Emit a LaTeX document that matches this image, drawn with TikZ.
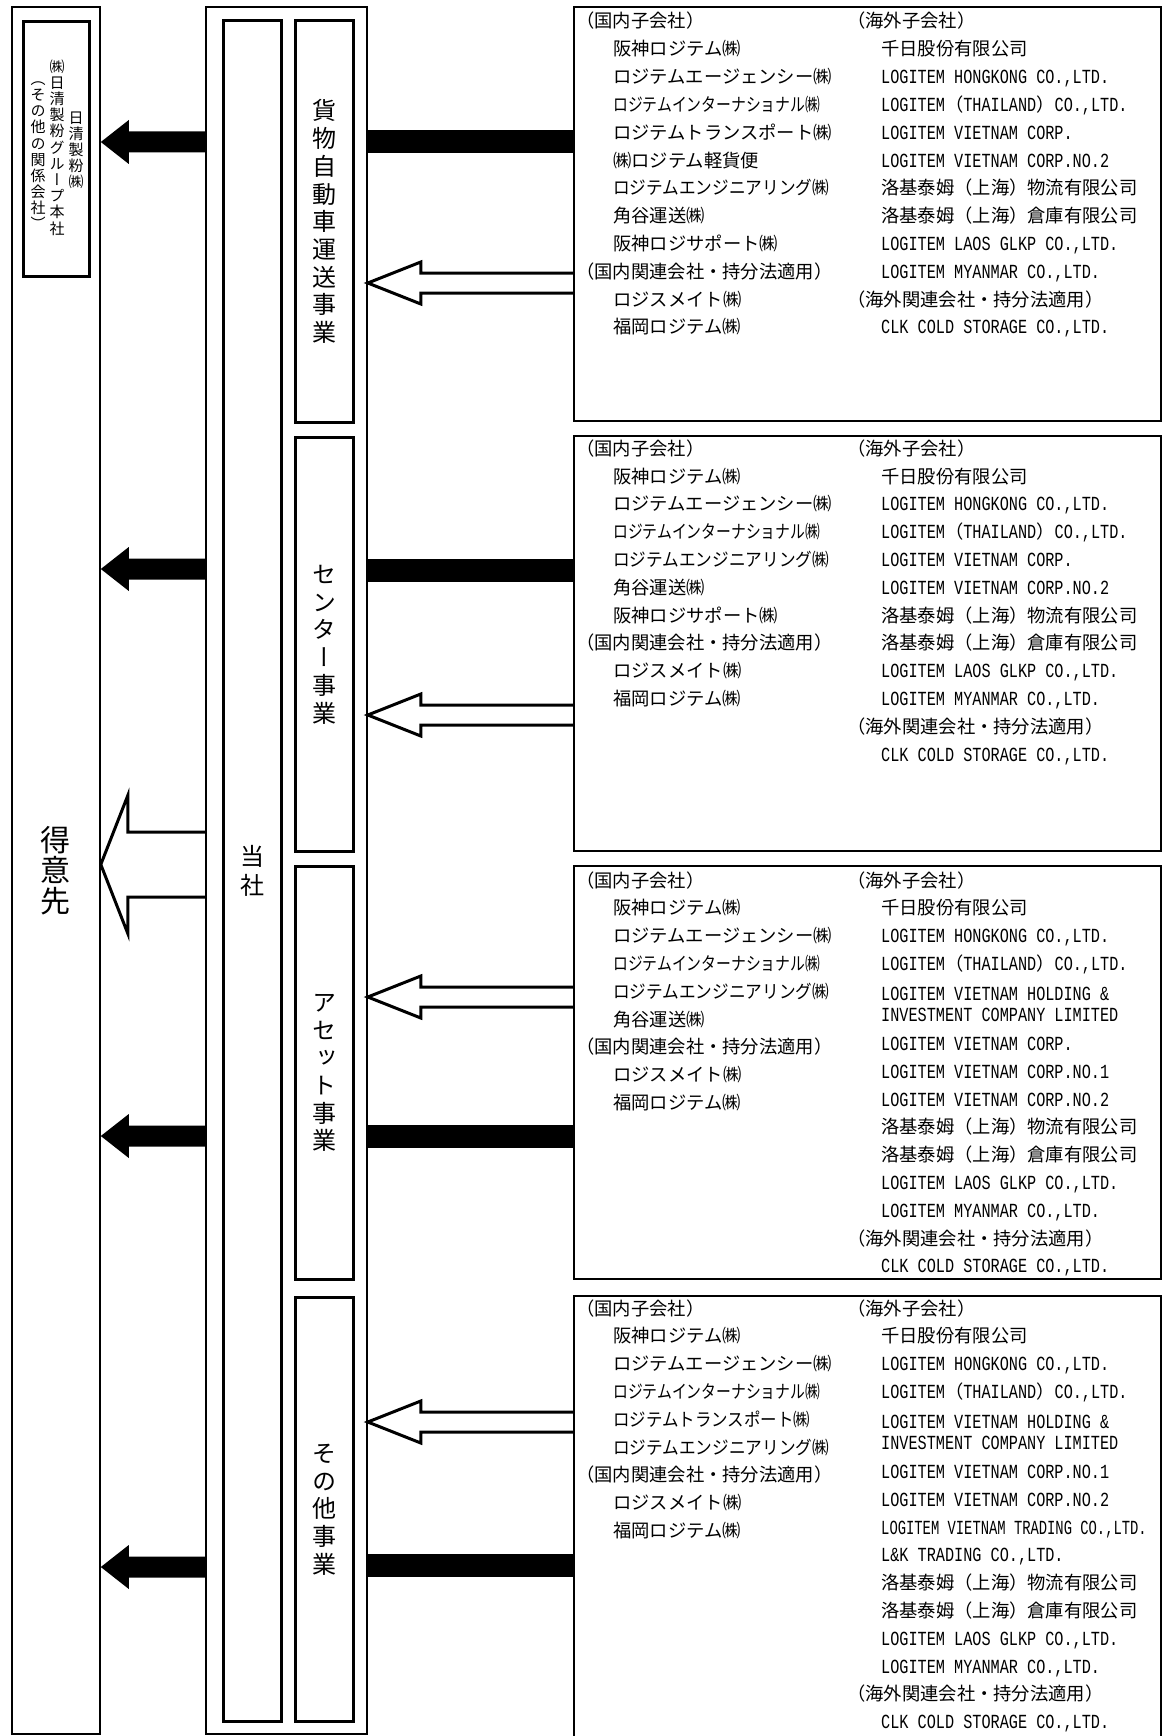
\documentclass[tikz,border=0pt]{standalone}
\usepackage{fontspec}
\usepackage{graphicx}
\usetikzlibrary{calc}
\setmainfont{Noto Sans CJK JP}
\newfontfamily\vjp{Noto Sans CJK JP}[RawFeature=+vert]
\newfontfamily\latf{Liberation Mono}[FakeStretch=0.76]
\newcommand\ltn[1]{{\latf\fontsize{20}{27.8}\selectfont #1}}
\newcommand\li{\hspace*{37pt}}
\newcommand\ri{\hspace*{34pt}}
\newcommand\sx[2]{\scalebox{#1}[1]{#2}}
\newcommand\fst{\rule{0pt}{17pt}}
\newcommand\blackL[2]{%
  \coordinate (bl#1) at (0,#2);
  \fill ($(toshaO.west|-bl#1)+(0,-10.5)$) -- ($(tokui.east|-bl#1)+(28,-10.5)$)
    -- ($(tokui.east|-bl#1)+(28,-22)$) -- (tokui.east|-bl#1)
    -- ($(tokui.east|-bl#1)+(28,22)$) -- ($(tokui.east|-bl#1)+(28,10.5)$)
    -- ($(toshaO.west|-bl#1)+(0,10.5)$) -- cycle;}
\newcommand\blackR[3]{%
  \coordinate (br#1) at (0,#2);
  \fill ($(toshaO.east|-br#1)+(0,-11.5)$) rectangle ($(#3.west|-br#1)+(0,11.5)$);}
\newcommand\hollowR[3]{%
  \coordinate (hr#1) at (0,#2);
  \draw[hollow] ($(#3.west|-hr#1)+(0,-10)$) -- ($(toshaO.east|-hr#1)+(53,-10)$)
    -- ($(toshaO.east|-hr#1)+(53,-21)$) -- (toshaO.east|-hr#1)
    -- ($(toshaO.east|-hr#1)+(53,21)$) -- ($(toshaO.east|-hr#1)+(53,10)$)
    -- ($(#3.west|-hr#1)+(0,10)$);}
\begin{document}
\begin{tikzpicture}[x=1pt,y=-1pt,
  obox/.style={draw, line width=1.8pt, inner sep=0pt, anchor=north west, align=center},
  ibox/.style={draw, line width=3.2pt, inner sep=0pt, anchor=north west, align=center},
  tbox/.style={draw, line width=2.2pt, inner sep=0pt, anchor=north west},
  col/.style={inner sep=0pt, anchor=north west, align=left, font=\fontsize{18.3}{27.8}\selectfont},
  vcol/.style={inner sep=0pt, anchor=north, align=center, font=\vjp\fontsize{15}{16.2}\selectfont},
  hollow/.style={draw, line width=3pt, miter limit=20},
  bizlabel/.style={font=\vjp\fontsize{24}{27.7}\selectfont}
]
\useasboundingbox (0,0) rectangle (1161,1736);
\fill[white] (0,0) rectangle (1161,1736);

% left boxes
\node[obox, minimum width=88pt, minimum height=1727pt, font=\vjp\fontsize{30}{30.5}\selectfont] (tokui) at (11,6) {得\\意\\先};
\node[ibox, minimum width=66pt, minimum height=255pt] (nisshin) at (22,20) {};
\node[vcol] (nis1) at (76,109) {\rule{0pt}{14pt}日\\清\\製\\粉\\㈱};
\node[vcol] (nis2) at (57,58) {\rule{0pt}{14pt}㈱\\日\\清\\製\\粉\\グ\\ル\\ー\\プ\\本\\社};
\node[vcol] (nis3) at (38,70) {\rule{0pt}{14pt}（\\そ\\の\\他\\の\\関\\係\\会\\社\\）};

% tosha
\node[obox, minimum width=161pt, minimum height=1727pt] (toshaO) at (205,6) {};
\node[ibox, minimum width=58pt, minimum height=1701pt, bizlabel, font=\vjp\fontsize{24}{29}\selectfont] (toshaI) at (222,19) {当\\社};

% business boxes
\node[ibox, minimum width=58pt, minimum height=402pt, bizlabel] (biz1) at (294,19) {貨\\物\\自\\動\\車\\運\\送\\事\\業};
\node[ibox, minimum width=58pt, minimum height=414pt, bizlabel] (biz2) at (294,436) {セ\\ン\\タ\\ー\\事\\業};
\node[ibox, minimum width=58pt, minimum height=413pt, bizlabel] (biz3) at (294,865) {ア\\セ\\ッ\\ト\\事\\業};
\node[ibox, minimum width=58pt, minimum height=424pt, bizlabel] (biz4) at (294,1296) {そ\\の\\他\\事\\業};

% text boxes
\node[tbox, minimum width=587pt, minimum height=414pt] (tA) at (573,6) {};
\node[tbox, minimum width=587pt, minimum height=415pt] (tB) at (573,435) {};
\node[tbox, minimum width=587pt, minimum height=413pt] (tC) at (573,865) {};
\node[tbox, minimum width=587pt, minimum height=500pt] (tD) at (573,1295) {};

% Box A
\node[col] (tAl) at (576,10.8) {\fst（国内子会社）\\
\li 阪神ロジテム㈱\\
\li ロジテムエージェンシー㈱\\
\li\sx{0.81}{ロジテムインターナショナル㈱}\\
\li ロジテムトランスポート㈱\\
\li ㈱ロジテム軽貨便\\
\li\sx{0.91}{ロジテムエンジニアリング㈱}\\
\li 角谷運送㈱\\
\li 阪神ロジサポート㈱\\
（国内関連会社・持分法適用）\\
\li ロジスメイト㈱\\
\li 福岡ロジテム㈱};
\node[col] (tAr) at (847,10.8) {\fst（海外子会社）\\
\ri 千日股份有限公司\\
\ri\ltn{LOGITEM HONGKONG CO.,LTD.}\\
\ri\ltn{LOGITEM}（\ltn{THAILAND}）\ltn{CO.,LTD.}\\
\ri\ltn{LOGITEM VIETNAM CORP.}\\
\ri\ltn{LOGITEM VIETNAM CORP.NO.2}\\
\ri 洛基泰姆（上海）物流有限公司\\
\ri 洛基泰姆（上海）倉庫有限公司\\
\ri\ltn{LOGITEM LAOS GLKP CO.,LTD.}\\
\ri\ltn{LOGITEM MYANMAR CO.,LTD.}\\
（海外関連会社・持分法適用）\\
\ri\ltn{CLK COLD STORAGE CO.,LTD.}};

% Box B
\node[col] (tBl) at (576,438.1) {\fst（国内子会社）\\
\li 阪神ロジテム㈱\\
\li ロジテムエージェンシー㈱\\
\li\sx{0.81}{ロジテムインターナショナル㈱}\\
\li\sx{0.91}{ロジテムエンジニアリング㈱}\\
\li 角谷運送㈱\\
\li 阪神ロジサポート㈱\\
（国内関連会社・持分法適用）\\
\li ロジスメイト㈱\\
\li 福岡ロジテム㈱};
\node[col] (tBr) at (847,438.1) {\fst（海外子会社）\\
\ri 千日股份有限公司\\
\ri\ltn{LOGITEM HONGKONG CO.,LTD.}\\
\ri\ltn{LOGITEM}（\ltn{THAILAND}）\ltn{CO.,LTD.}\\
\ri\ltn{LOGITEM VIETNAM CORP.}\\
\ri\ltn{LOGITEM VIETNAM CORP.NO.2}\\
\ri 洛基泰姆（上海）物流有限公司\\
\ri 洛基泰姆（上海）倉庫有限公司\\
\ri\ltn{LOGITEM LAOS GLKP CO.,LTD.}\\
\ri\ltn{LOGITEM MYANMAR CO.,LTD.}\\
（海外関連会社・持分法適用）\\
\ri\ltn{CLK COLD STORAGE CO.,LTD.}};

% Box C
\node[col] (tCl) at (576,869.8) {\fst（国内子会社）\\
\li 阪神ロジテム㈱\\
\li ロジテムエージェンシー㈱\\
\li\sx{0.81}{ロジテムインターナショナル㈱}\\
\li\sx{0.91}{ロジテムエンジニアリング㈱}\\
\li 角谷運送㈱\\
（国内関連会社・持分法適用）\\
\li ロジスメイト㈱\\
\li 福岡ロジテム㈱};
\node[col] (tCr) at (847,869.8) {\fst（海外子会社）\\
\ri 千日股份有限公司\\
\ri\ltn{LOGITEM HONGKONG CO.,LTD.}\\
\ri\ltn{LOGITEM}（\ltn{THAILAND}）\ltn{CO.,LTD.}\\[2.5pt]
\ri\ltn{LOGITEM VIETNAM HOLDING \&}\\[-6.8pt]
\ri\ltn{INVESTMENT COMPANY LIMITED}\\[1pt]
\ri\ltn{LOGITEM VIETNAM CORP.}\\
\ri\ltn{LOGITEM VIETNAM CORP.NO.1}\\
\ri\ltn{LOGITEM VIETNAM CORP.NO.2}\\
\ri 洛基泰姆（上海）物流有限公司\\
\ri 洛基泰姆（上海）倉庫有限公司\\
\ri\ltn{LOGITEM LAOS GLKP CO.,LTD.}\\
\ri\ltn{LOGITEM MYANMAR CO.,LTD.}\\
（海外関連会社・持分法適用）\\
\ri\ltn{CLK COLD STORAGE CO.,LTD.}};

% Box D
\node[col] (tDl) at (576,1297.8) {\fst（国内子会社）\\
\li 阪神ロジテム㈱\\
\li ロジテムエージェンシー㈱\\
\li\sx{0.81}{ロジテムインターナショナル㈱}\\
\li\sx{0.9}{ロジテムトランスポート㈱}\\
\li\sx{0.91}{ロジテムエンジニアリング㈱}\\
（国内関連会社・持分法適用）\\
\li ロジスメイト㈱\\
\li 福岡ロジテム㈱};
\node[col] (tDr) at (847,1297.8) {\fst（海外子会社）\\
\ri 千日股份有限公司\\
\ri\ltn{LOGITEM HONGKONG CO.,LTD.}\\
\ri\ltn{LOGITEM}（\ltn{THAILAND}）\ltn{CO.,LTD.}\\[2.5pt]
\ri\ltn{LOGITEM VIETNAM HOLDING \&}\\[-6.8pt]
\ri\ltn{INVESTMENT COMPANY LIMITED}\\[1pt]
\ri\ltn{LOGITEM VIETNAM CORP.NO.1}\\
\ri\ltn{LOGITEM VIETNAM CORP.NO.2}\\
\ri\sx{0.91}{\ltn{LOGITEM VIETNAM TRADING CO.,LTD.}}\\
\ri\ltn{L\&K TRADING CO.,LTD.}\\
\ri 洛基泰姆（上海）物流有限公司\\
\ri 洛基泰姆（上海）倉庫有限公司\\
\ri\ltn{LOGITEM LAOS GLKP CO.,LTD.}\\
\ri\ltn{LOGITEM MYANMAR CO.,LTD.}\\
（海外関連会社・持分法適用）\\
\ri\ltn{CLK COLD STORAGE CO.,LTD.}};

% connectors
\blackL{1}{142}
\blackL{2}{569}
\blackL{3}{1136}
\blackL{4}{1567}
\blackR{1}{142}{tA}
\blackR{2}{570}{tB}
\blackR{3}{1136}{tC}
\blackR{4}{1565}{tD}
\hollowR{1}{283}{tA}
\hollowR{2}{715}{tB}
\hollowR{3}{997}{tC}
\hollowR{4}{1422}{tD}
% big hollow arrow to customers
\coordinate (cy) at (0,864.5);
\draw[hollow] ($(toshaO.west|-cy)+(0,-32.5)$) -- ($(tokui.east|-cy)+(27,-32.5)$)
  -- ($(tokui.east|-cy)+(27,-69)$) -- (tokui.east|-cy)
  -- ($(tokui.east|-cy)+(27,69)$) -- ($(tokui.east|-cy)+(27,32.5)$)
  -- ($(toshaO.west|-cy)+(0,32.5)$);
\end{tikzpicture}
\end{document}
